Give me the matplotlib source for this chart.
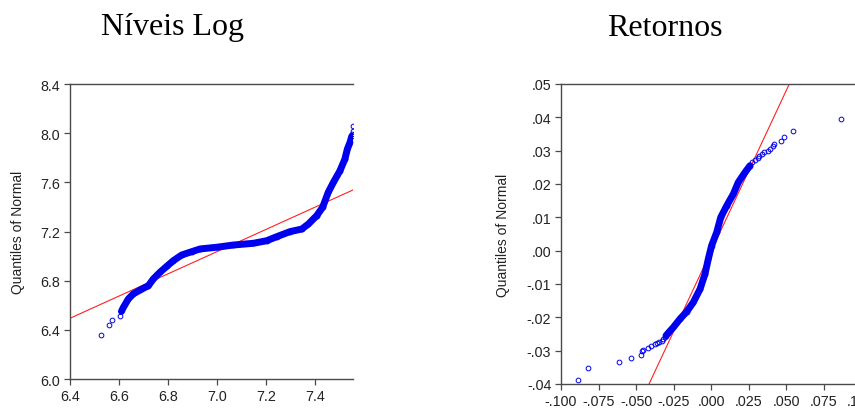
import matplotlib
matplotlib.use("Agg")
import matplotlib.pyplot as plt

# ---- Níveis Log: sorted data (x) vs normal quantiles (y)
lvl_sparse_x = [6.525, 6.558, 6.570, 6.604, 7.556, 7.553, 7.550]
lvl_sparse_y = [6.358, 6.442, 6.482, 6.510, 8.061, 8.020, 7.990]
lvl_dense_x = [6.610, 6.618, 6.638, 6.658, 6.686, 6.720, 6.740, 6.767, 6.795,
               6.822, 6.856, 6.897, 6.931, 6.999, 7.067, 7.148, 7.203, 7.244,
               7.298, 7.346, 7.373, 7.407, 7.431, 7.454, 7.475, 7.502, 7.522,
               7.532, 7.543, 7.550]
lvl_dense_y = [6.550, 6.583, 6.651, 6.692, 6.724, 6.759, 6.814, 6.868, 6.917,
               6.963, 7.009, 7.036, 7.058, 7.072, 7.090, 7.104, 7.125, 7.158,
               7.199, 7.220, 7.261, 7.329, 7.397, 7.519, 7.600, 7.695, 7.790,
               7.871, 7.926, 7.975]
lvl_line_x = [6.4, 7.555]
lvl_line_y = [6.494, 7.538]
lvl_yticks = [6.0, 6.4, 6.8, 7.2, 7.6, 8.0, 8.4]
lvl_xticks = [6.4, 6.6, 6.8, 7.0, 7.2, 7.4]

# ---- Retornos
ret_sparse_x = [-0.0889, -0.0818, -0.0613, -0.0533, -0.0469, -0.0458, -0.0451,
                -0.0422, -0.0400, -0.0373, -0.0362, -0.0345, -0.0329, -0.0318,
                -0.0307, 0.0271, 0.0293, 0.0311, 0.0322, 0.0338, 0.0355, 0.0382,
                0.0393, 0.0411, 0.0422, 0.0467, 0.0489, 0.0547, 0.0865]
ret_sparse_y = [-0.0388, -0.0352, -0.0334, -0.0322, -0.0312, -0.0302, -0.0297,
                -0.0292, -0.0287, -0.0280, -0.0277, -0.0275, -0.0271, -0.0265,
                -0.0260, 0.0267, 0.0272, 0.0277, 0.0285, 0.0290, 0.0295, 0.0300,
                0.0305, 0.0313, 0.0320, 0.0330, 0.0342, 0.0360, 0.0396]
ret_dense_x = [-0.0300, -0.0285, -0.0251, -0.0207, -0.0162, -0.0118, -0.0073,
               -0.0040, -0.0018, 0.0004, 0.0038, 0.0065, 0.0105, 0.0149, 0.0182,
               0.0227, 0.0260]
ret_dense_y = [-0.0255, -0.0247, -0.0230, -0.0205, -0.0183, -0.0155, -0.0115,
               -0.0070, -0.0025, 0.0015, 0.0055, 0.0100, 0.0135, 0.0170, 0.0205,
               0.0235, 0.0255]
ret_line_x = [-0.0413, 0.0522]
ret_line_y = [-0.04, 0.05]
ret_yticks = [-0.04, -0.03, -0.02, -0.01, 0.0, 0.01, 0.02, 0.03, 0.04, 0.05]
ret_ylabels = ["-.04", "-.03", "-.02", "-.01", ".00", ".01", ".02", ".03", ".04", ".05"]
ret_xticks = [-0.100, -0.075, -0.050, -0.025, 0.0, 0.025, 0.050, 0.075, 0.100]
ret_xlabels = ["-.100", "-.075", "-.050", "-.025", ".000", ".025", ".050", ".075", ".100"]

W, H = 855, 410
fig = plt.figure(figsize=(W / 100, H / 100), dpi=100)
plt.rcParams['font.family'] = ['Liberation Sans', 'DejaVu Sans']

blue = '#0000f0'


def style(ax):
    for s in ['left', 'top', 'bottom']:
        ax.spines[s].set_color('#4a4a4a')
        ax.spines[s].set_linewidth(1.0)
    ax.spines['right'].set_visible(False)
    ax.tick_params(direction='out', length=4.5, width=0.9, colors='#4a4a4a',
                   labelcolor='#222222', labelsize=10.3, pad=2.5)
    ax.set_ylabel('Quantiles of Normal', fontsize=10, color='#222222')


def panel(ax, sx, sy, dx, dy, lx, ly):
    ax.plot(lx, ly, color='#ff2020', lw=0.8, zorder=2)
    ax.plot(dx, dy, color=blue, lw=5.0, solid_capstyle='round', zorder=3)
    ax.plot(dx, dy, 'o', ms=3.4, mfc='none', mec=blue, mew=0.7, zorder=3)
    ax.plot(sx, sy, 'o', ms=3.4, mfc='none', mec=blue, mew=0.7, zorder=3)


ax1 = fig.add_axes([70 / W, 1 - 380 / H, (353 - 70) / W, (380 - 85) / H])
panel(ax1, lvl_sparse_x, lvl_sparse_y, lvl_dense_x, lvl_dense_y, lvl_line_x, lvl_line_y)
ax1.set_xlim(6.4, 7.555)
ax1.set_ylim(6.0, 8.4)
ax1.set_xticks(lvl_xticks)
ax1.set_xticklabels([f"{v:.1f}" for v in lvl_xticks])
ax1.set_yticks(lvl_yticks)
ax1.set_yticklabels([f"{v:.1f}" for v in lvl_yticks])
style(ax1)
ax1.yaxis.set_label_coords(-0.16, 0.5)

ax2 = fig.add_axes([561 / W, 1 - 385 / H, (861 - 561) / W, (385 - 85) / H])
panel(ax2, ret_sparse_x, ret_sparse_y, ret_dense_x, ret_dense_y, ret_line_x, ret_line_y)
ax2.set_xlim(-0.1, 0.1)
ax2.set_ylim(-0.04, 0.05)
ax2.set_xticks(ret_xticks)
ax2.set_xticklabels(ret_xlabels)
ax2.set_yticks(ret_yticks)
ax2.set_yticklabels(ret_ylabels)
style(ax2)
ax2.yaxis.set_label_coords(-0.17, 0.5)

fig.text(172 / W, 1 - 28 / H, 'Níveis Log', family='Liberation Serif', fontsize=23,
         ha='center', va='center')
fig.text(665 / W, 1 - 28 / H, 'Retornos', family='Liberation Serif', fontsize=23,
         ha='center', va='center')

fig.savefig('out.png', dpi=100)
